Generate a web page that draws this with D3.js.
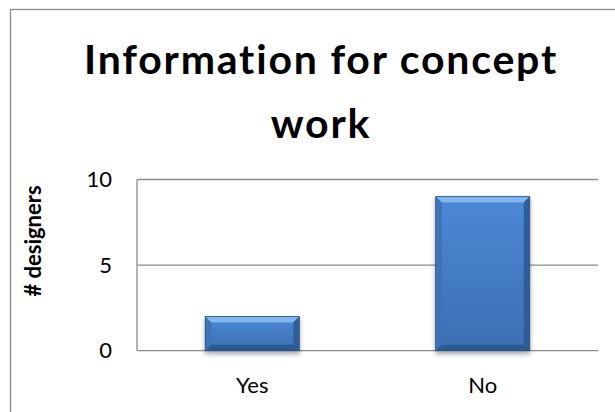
<!DOCTYPE html>
<html>
<head>
<meta charset="utf-8">
<script src="https://cdn.jsdelivr.net/npm/d3@7"></script>
<style>
  body { margin: 0; background: #fff; }
  svg { display: block; font-family: Lato, "Open Sans", sans-serif; }
  .grid line { stroke: #8c8c8c; stroke-width: 1.3; }
</style>
</head>
<body>
<div id="chart"></div>
<script>
var categories = ["Yes", "No"];
var values = [2, 9];
var yTicks = [0, 5, 10];
var titleLines = ["Information for concept", "work"];
var yTitle = "# designers";

var w = 615, h = 412;
var plot = { left: 137, right: 598, top: 179.5, bottom: 350.7 };

var svg = d3.select("#chart").append("svg").attr("width", w).attr("height", h);

/* gradients for bars */
var defs = svg.append("defs");
var g1 = defs.append("linearGradient").attr("id", "barFill")
	.attr("x1", 0).attr("y1", 0).attr("x2", 0).attr("y2", 1);
g1.append("stop").attr("offset", "0%").attr("stop-color", "#4d88d5");
g1.append("stop").attr("offset", "100%").attr("stop-color", "#3b6fb1");

var shadow = defs.append("filter").attr("id", "shadow")
	.attr("x", "-20%").attr("y", "-20%").attr("width", "140%").attr("height", "140%");
shadow.append("feGaussianBlur").attr("in", "SourceAlpha").attr("stdDeviation", 2.5);
shadow.append("feOffset").attr("dx", 0).attr("dy", 3).attr("result", "b");
shadow.append("feComponentTransfer").append("feFuncA").attr("type", "linear").attr("slope", 0.35);
var merge = shadow.append("feMerge");
merge.append("feMergeNode");
merge.append("feMergeNode").attr("in", "SourceGraphic");

/* outer chart border */
svg.append("rect")
	.attr("x", 10.5).attr("y", 9.5).attr("width", 620).attr("height", 420)
	.attr("fill", "none").attr("stroke", "#8c8c8c").attr("stroke-width", 1.3);

var xScale = d3.scaleBand()
	.domain(categories)
	.range([plot.left, plot.right])
	.paddingInner(0.592)
	.paddingOuter(0.296);

var yScale = d3.scaleLinear()
	.domain([0, 10])
	.range([plot.bottom, plot.top]);

/* gridlines */
var grid = svg.append("g").attr("class", "grid");
grid.selectAll("line").data(yTicks).enter().append("line")
	.attr("x1", plot.left).attr("x2", plot.right)
	.attr("y1", function(d){ return yScale(d); })
	.attr("y2", function(d){ return yScale(d); });
grid.append("line")
	.attr("x1", plot.left).attr("x2", plot.left)
	.attr("y1", plot.top).attr("y2", plot.bottom);

/* y axis labels */
var yAxis = d3.axisLeft(yScale).tickValues(yTicks).tickSize(0).tickPadding(25);
var ya = svg.append("g")
	.attr("transform", "translate(" + plot.left + ",0)")
	.call(yAxis);
ya.select(".domain").remove();
ya.selectAll("text").style("font-size", "22px").style("font-family", "Lato").attr("fill", "#000");

/* x axis labels */
var xAxis = d3.axisBottom(xScale).tickSize(0).tickPadding(27);
var xa = svg.append("g")
	.attr("transform", "translate(0," + plot.bottom + ")")
	.call(xAxis);
xa.select(".domain").remove();
xa.selectAll("text").style("font-size", "22px").style("font-family", "Lato").attr("fill", "#000");

/* bars with bevel */
var bev = 6;
var bars = svg.append("g").selectAll("g").data(values).enter().append("g")
	.attr("filter", "url(#shadow)");

bars.append("rect")
	.attr("x", function(d, i){ return xScale(categories[i]); })
	.attr("y", function(d){ return yScale(d); })
	.attr("width", xScale.bandwidth())
	.attr("height", function(d){ return plot.bottom - yScale(d); })
	.attr("fill", "url(#barFill)");

function bevelPath(d, i, side) {
	var x0 = xScale(categories[i]), x1 = x0 + xScale.bandwidth();
	var y0 = yScale(d), y1 = plot.bottom;
	if (side == "top") return [[x0,y0],[x1,y0],[x1-bev,y0+bev],[x0+bev,y0+bev]];
	if (side == "left") return [[x0,y0],[x0+bev,y0+bev],[x0+bev,y1-bev],[x0,y1]];
	if (side == "right") return [[x1,y0],[x1,y1],[x1-bev,y1-bev],[x1-bev,y0+bev]];
	return [[x0,y1],[x0+bev,y1-bev],[x1-bev,y1-bev],[x1,y1]];
}
var bevelColors = { top: "#82b6f0", left: "#4073b5", right: "#2f5d98", bottom: "#2c5a92" };
["top", "left", "right", "bottom"].forEach(function(side){
	bars.append("polygon")
		.attr("points", function(d, i){ return bevelPath(d, i, side).join(" "); })
		.attr("fill", bevelColors[side]);
});
bars.append("rect")
	.attr("x", function(d, i){ return xScale(categories[i]); })
	.attr("y", function(d){ return yScale(d); })
	.attr("width", xScale.bandwidth())
	.attr("height", function(d){ return plot.bottom - yScale(d); })
	.attr("fill", "none").attr("stroke", "#2a4f80").attr("stroke-width", 0.8);

/* title */
svg.append("text")
	.attr("x", 320).attr("y", 74)
	.attr("text-anchor", "middle")
	.style("font-size", "41px").style("font-weight", "bold")
	.style("letter-spacing", "1.8px")
	.selectAll("tspan").data(titleLines).enter().append("tspan")
	.attr("x", 321)
	.attr("dy", function(d, i){ return i == 0 ? 0 : 64; })
	.text(function(d){ return d; });

/* y axis title */
svg.append("text")
	.attr("transform", "translate(41,241) rotate(-90)")
	.attr("text-anchor", "middle")
	.style("font-size", "22px").style("font-weight", "bold")
	.text(yTitle);
</script>
</body>
</html>
